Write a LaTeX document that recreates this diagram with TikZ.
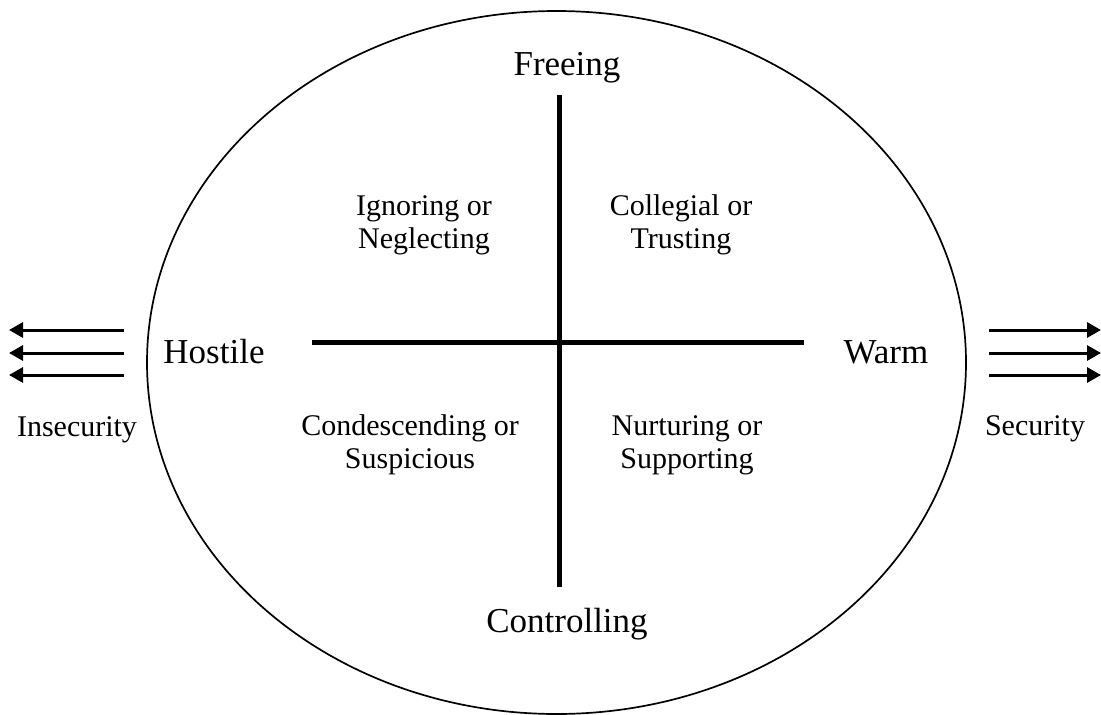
\documentclass[tikz,border=0pt]{standalone}
\usepackage{fontspec}
\setmainfont{Liberation Serif}
\usetikzlibrary{arrows.meta}
\definecolor{Ink}{HTML}{000000}
\tikzset{
  axis/.style={draw=Ink,line width=5pt},
  rim/.style={draw=Ink,line width=1.7pt},
  push/.style={-{Triangle[length=14pt,width=15pt]},draw=Ink,line width=3pt},
  pole/.style={font=\fontsize{35}{40}\selectfont,anchor=base,inner sep=0pt,text=Ink},
  quad/.style={font=\fontsize{30}{33}\selectfont,align=center,inner sep=0pt,text=Ink},
  side/.style={font=\fontsize{30}{33}\selectfont,anchor=base,inner sep=0pt,text=Ink}
}

\begin{document}
\begin{tikzpicture}[x=1pt,y=-1pt]
      \useasboundingbox (0,0) rectangle (1101,715);
      \coordinate (mid) at (556.5,362.5);
      \draw[rim] (mid) ellipse [x radius=409.5pt,y radius=351.5pt];

      \coordinate (vtop) at (559,95);
      \coordinate (vbot) at (559,587);
      \coordinate (hleft) at (312,342);
      \coordinate (hright) at (804,342);
      \draw[axis] (vtop) -- (vbot);
      \draw[axis] (hleft) -- (hright);

      \node[pole] (free) at (567,75) {Freeing};
      \node[pole] (ctrl) at (567,632) {Controlling};
      \node[pole] (host) at (214,363) {Hostile};
      \node[pole] (warm) at (886,363) {Warm};

      \node[quad] (ign) at (424,225) {Ignoring or\\Neglecting};
      \node[quad] (col) at (681,225) {Collegial or\\Trusting};
      \node[quad] (con) at (410,445) {Condescending or\\Suspicious};
      \node[quad] (nur) at (687,445) {Nurturing or\\Supporting};

      \coordinate (l1a) at (124,330); \coordinate (l1b) at (9,330);
      \coordinate (l2a) at (124,353); \coordinate (l2b) at (9,353);
      \coordinate (l3a) at (124,375); \coordinate (l3b) at (9,375);
      \draw[push] (l1a) -- (l1b);
      \draw[push] (l2a) -- (l2b);
      \draw[push] (l3a) -- (l3b);
      \coordinate (r1a) at (989,330); \coordinate (r1b) at (1101,330);
      \coordinate (r2a) at (989,353); \coordinate (r2b) at (1101,353);
      \coordinate (r3a) at (989,375); \coordinate (r3b) at (1101,375);
      \draw[push] (r1a) -- (r1b);
      \draw[push] (r2a) -- (r2b);
      \draw[push] (r3a) -- (r3b);

      \node[side] (insec) at (77,436) {Insecurity};
      \node[side] (sec) at (1035,435) {Security};
    \end{tikzpicture}
\end{document}
